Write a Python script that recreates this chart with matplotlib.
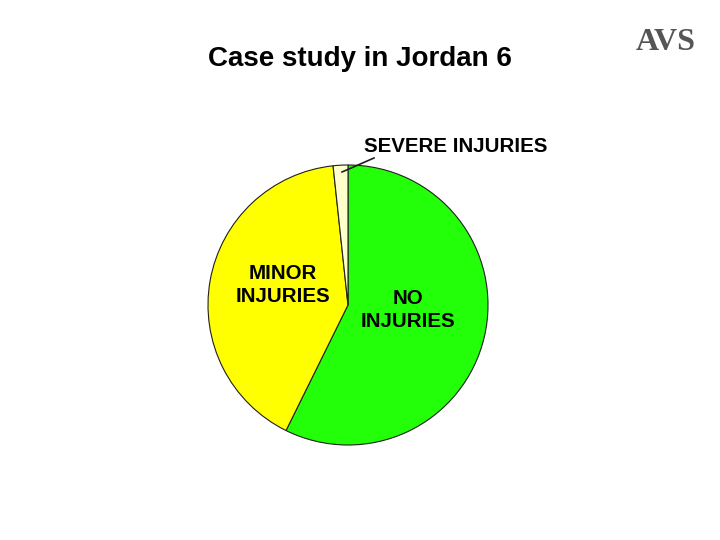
import matplotlib.pyplot as plt

# slices, clockwise from 12 o'clock
labels = ['NO\nINJURIES', 'MINOR\nINJURIES', 'SEVERE INJURIES']
shares = [57.3, 41.0, 1.7]
colors = ['#22ff08', '#ffff00', '#ffffcc']

W, H = 720, 540
fig = plt.figure(figsize=(7.2, 5.4), dpi=100)

# pie axes: centre (348, 305) px, radius 140 px
cx, cy, r = 348, 305, 140
half = 1.25 * r
ax = fig.add_axes([(cx - half) / W, (H - cy - half) / H, 2 * half / W, 2 * half / H])
ax.pie(shares, colors=colors, startangle=90, counterclock=False,
       wedgeprops=dict(edgecolor='#202020', linewidth=0.8))

# overlay in pixel coords for the text
ov = fig.add_axes([0, 0, 1, 1])
ov.set_xlim(0, W)
ov.set_ylim(H, 0)
ov.axis('off')

ov.text(360, 59, 'Case study in Jordan 6', ha='center', va='center',
        fontsize=20, family='Liberation Sans', weight='bold')
ov.text(666, 42, 'AVS', ha='center', va='center', fontsize=23,
        family='Liberation Serif', weight='bold', color='#555555')

lab_font = dict(fontsize=14.8, family='Liberation Sans', weight='bold', ha='center', va='center',
                linespacing=1.3)
ov.text(408, 310, labels[0], **lab_font)
ov.text(283, 285, labels[1], **lab_font)
ov.text(456, 147, labels[2], **lab_font)
ov.plot([342, 374], [172, 158], color='#202020', lw=1.2)

fig.savefig('out.png', dpi=100)
